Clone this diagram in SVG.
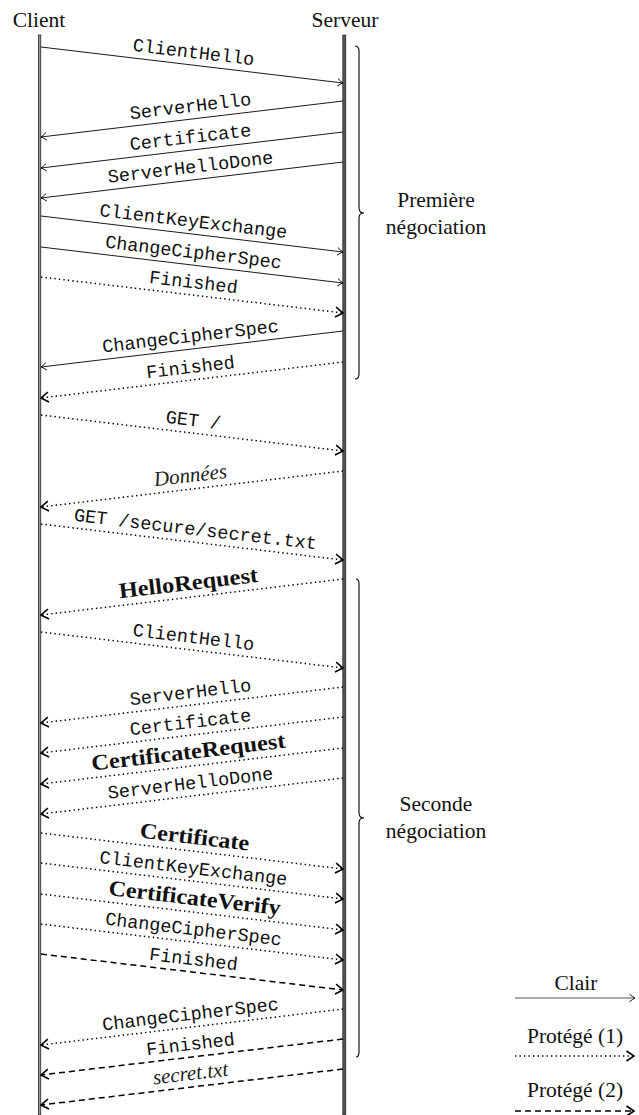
<svg xmlns="http://www.w3.org/2000/svg" width="639" height="1115" viewBox="0 0 639 1115">
<style>
.hdr{font-family:"Liberation Serif",serif;font-size:21.5px;fill:#111;text-anchor:middle}
.m{font-family:"Liberation Mono",monospace;font-size:18.5px;fill:#111;text-anchor:middle}
.b{font-family:"Liberation Serif",serif;font-size:22px;font-weight:bold;fill:#111;text-anchor:middle}
.i{font-family:"Liberation Serif",serif;font-size:21px;font-style:italic;fill:#222;text-anchor:middle}
.s{fill:none;stroke:#000;stroke-width:0.9;marker-end:url(#to)}
.d{fill:none;stroke:#000;stroke-width:1.5;stroke-dasharray:1.4 3.1;marker-end:url(#gt)}
.k{fill:none;stroke:#000;stroke-width:1.5;stroke-dasharray:6 4;marker-end:url(#gt)}
.brace{fill:none;stroke:#000;stroke-width:1.1}
</style>
<defs>
<marker id="to" viewBox="-10 -6 12 12" refX="0" refY="0" markerWidth="12" markerHeight="12" markerUnits="userSpaceOnUse" orient="auto">
<path d="M-5.5,-3.8 Q-2,-0.9 0,0 Q-2,0.9 -5.5,3.8" fill="none" stroke="#000" stroke-width="0.9"/>
</marker>
<marker id="gt" viewBox="-10 -7 12 14" refX="0" refY="0" markerWidth="12" markerHeight="14" markerUnits="userSpaceOnUse" orient="auto">
<path d="M-7.5,-5 L0,0 L-7.5,5" fill="none" stroke="#000" stroke-width="1.6"/>
</marker>
</defs>
<rect width="639" height="1115" fill="#fff"/>

<g id="client">
<text class="hdr" x="39" y="27">Client</text>
<rect x="38.4" y="35" width="2.4" height="1080" fill="#999" stroke="#111" stroke-width="0.7"/>
</g>
<g id="serveur">
<text class="hdr" x="345" y="27">Serveur</text>
<rect x="342.8" y="35" width="3" height="1080" fill="#555" stroke="#222" stroke-width="0.7"/>
</g>

<g id="phase1">
<path class="brace" d="M355,46 Q359,46 359,51 L359,208 Q359,213 364,213 Q359,213 359,218 L359,374 Q359,379 355,379"/>
<text class="hdr" x="436" y="207">Première</text>
<text class="hdr" x="436" y="234">négociation</text>
</g>
<g id="phase2">
<path class="brace" d="M356,579 Q359,579 359,584 L359,813 Q359,818 364,818 Q359,818 359,823 L359,1052 Q359,1057 356,1057"/>
<text class="hdr" x="436" y="811">Seconde</text>
<text class="hdr" x="436" y="838">négociation</text>
</g>

<g id="connectors">
<path class="s" d="M41,47 L343,83"/>
<path class="s" d="M343,101 L41,137"/>
<path class="s" d="M343,132 L41,168"/>
<path class="s" d="M343,162 L41,198"/>
<path class="s" d="M41,216 L343,252"/>
<path class="s" d="M41,247 L343,283"/>
<path class="d" d="M41,277 L343,313"/>
<path class="s" d="M343,331 L41,367"/>
<path class="d" d="M343,362 L41,398"/>
<path class="d" d="M41,415 L343,451"/>
<path class="d" d="M343,471 L41,507"/>
<path class="d" d="M41,524 L343,560"/>
<path class="d" d="M343,579 L41,615"/>
<path class="d" d="M41,632 L343,668"/>
<path class="d" d="M343,687 L41,723"/>
<path class="d" d="M343,717 L41,753"/>
<path class="d" d="M343,748 L41,784"/>
<path class="d" d="M343,778 L41,814"/>
<path class="d" d="M41,833 L343,869"/>
<path class="d" d="M41,863 L343,899"/>
<path class="d" d="M41,894 L343,930"/>
<path class="d" d="M41,924 L343,960"/>
<path class="k" d="M41,954 L343,990"/>
<path class="d" d="M343,1009 L41,1045"/>
<path class="k" d="M343,1039 L41,1075"/>
<path class="k" d="M343,1069 L41,1105"/>
</g>

<g id="labels">
<text class="m" transform="translate(192,65) rotate(6.75)" y="-7">ClientHello</text>
<text class="m" transform="translate(192,119) rotate(-6.75)" y="-7">ServerHello</text>
<text class="m" transform="translate(192,150) rotate(-6.75)" y="-7">Certificate</text>
<text class="m" transform="translate(192,180) rotate(-6.75)" y="-7">ServerHelloDone</text>
<text class="m" transform="translate(192,234) rotate(6.75)" y="-7">ClientKeyExchange</text>
<text class="m" transform="translate(192,265) rotate(6.75)" y="-7">ChangeCipherSpec</text>
<text class="m" transform="translate(192,295) rotate(6.75)" y="-7">Finished</text>
<text class="m" transform="translate(192,349) rotate(-6.75)" y="-7">ChangeCipherSpec</text>
<text class="m" transform="translate(192,380) rotate(-6.75)" y="-7">Finished</text>
<text class="m" transform="translate(192,433) rotate(6.75)" y="-7">GET /</text>
<text class="i" transform="translate(192,489) rotate(-6.75)" y="-7">Données</text>
<text class="m" transform="translate(194,542) rotate(6.75)" y="-7">GET /secure/secret.txt</text>
<text class="b" transform="translate(190,597) rotate(-6.75)" y="-7" textLength="140" lengthAdjust="spacingAndGlyphs">HelloRequest</text>
<text class="m" transform="translate(192,650) rotate(6.75)" y="-7">ClientHello</text>
<text class="m" transform="translate(192,705) rotate(-6.75)" y="-7">ServerHello</text>
<text class="m" transform="translate(192,735) rotate(-6.75)" y="-7">Certificate</text>
<text class="b" transform="translate(190,766) rotate(-6.75)" y="-7" textLength="195" lengthAdjust="spacingAndGlyphs">CertificateRequest</text>
<text class="m" transform="translate(192,796) rotate(-6.75)" y="-7">ServerHelloDone</text>
<text class="b" transform="translate(193,851) rotate(6.75)" y="-7" textLength="110" lengthAdjust="spacingAndGlyphs">Certificate</text>
<text class="m" transform="translate(192,881) rotate(6.75)" y="-7">ClientKeyExchange</text>
<text class="b" transform="translate(193,912) rotate(6.75)" y="-7" textLength="173" lengthAdjust="spacingAndGlyphs">CertificateVerify</text>
<text class="m" transform="translate(192,942) rotate(6.75)" y="-7">ChangeCipherSpec</text>
<text class="m" transform="translate(192,972) rotate(6.75)" y="-7">Finished</text>
<text class="m" transform="translate(192,1027) rotate(-6.75)" y="-7">ChangeCipherSpec</text>
<text class="m" transform="translate(192,1057) rotate(-6.75)" y="-7">Finished</text>
<text class="i" transform="translate(192,1087) rotate(-6.75)" y="-7">secret.txt</text>
</g>

<g id="legend">
<text class="hdr" x="576" y="990">Clair</text>
<path class="s" d="M515,998 L635,998" style="stroke:#444"/>
<text class="hdr" x="575" y="1043">Protégé (1)</text>
<path class="d" d="M515,1056 L634,1056"/>
<text class="hdr" x="575" y="1097">Protégé (2)</text>
<path class="k" d="M515,1111 L634,1111"/>
</g>
</svg>
